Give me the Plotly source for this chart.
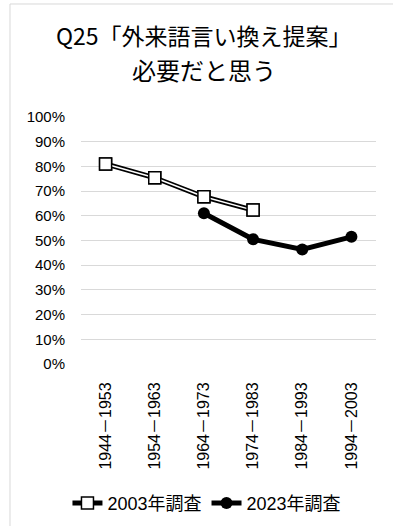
import plotly.graph_objects as go

categories = ["1944－1953", "1954－1963", "1964－1973", "1974－1983", "1984－1993", "1994－2003"]
survey_2003 = [81.0, 75.4, 67.7, 62.3, None, None]
survey_2023 = [None, None, 61.0, 50.5, 46.4, 51.5]
y_ticks = list(range(0, 101, 10))
y_ticklabels = [f"{v}%" for v in y_ticks]

font = "Liberation Sans, Noto Sans CJK JP"

fig = go.Figure()
# 2003: double line (black outline, white core) with white squares
fig.add_trace(go.Scatter(x=categories, y=survey_2003, mode="lines+markers",
                         name="2003年調査",
                         line=dict(color="black", width=5),
                         marker=dict(symbol="square", size=12, color="white",
                                     line=dict(color="black", width=1.5))))
fig.add_trace(go.Scatter(x=categories, y=survey_2003, mode="lines",
                         line=dict(color="white", width=1.5),
                         showlegend=False, hoverinfo="skip"))
fig.add_trace(go.Scatter(x=categories, y=survey_2003, mode="markers",
                         marker=dict(symbol="square", size=12, color="white",
                                     line=dict(color="black", width=1.5)),
                         showlegend=False, hoverinfo="skip"))
# 2023: thick black line with circles
fig.add_trace(go.Scatter(x=categories, y=survey_2023, mode="lines+markers",
                         name="2023年調査",
                         line=dict(color="black", width=5),
                         marker=dict(symbol="circle", size=12, color="black")))

# outer chart frame (light gray)
frame = dict(color="#d9d9d9", width=1)
fig.add_shape(type="line", xref="paper", yref="paper",
              x0=-0.2407, x1=-0.2407, y0=-0.7, y1=1.4575, line=frame)
fig.add_shape(type="line", xref="paper", yref="paper",
              x0=-0.2407, x1=1.1, y0=1.4575, y1=1.4575, line=frame)

fig.add_annotation(text="Q25「外来語言い換え提案」",
                   xref="paper", yref="paper", x=0.417, y=1.333,
                   xanchor="center", yanchor="middle", showarrow=False,
                   height=28, valign="middle",
                   font=dict(family="Noto Sans CJK JP", size=23, color="black"))
fig.add_annotation(text="必要だと思う",
                   xref="paper", yref="paper", x=0.417, y=1.196,
                   xanchor="center", yanchor="middle", showarrow=False,
                   height=28, valign="middle",
                   font=dict(family="Noto Sans CJK JP", size=24, color="black"))

fig.update_xaxes(type="category", range=[-0.5, 5.5], tickangle=-90,
                 showgrid=False, showline=False, zeroline=False,
                 ticks="outside", ticklen=11, tickcolor="rgba(0,0,0,0)",
                 tickfont=dict(family=font, size=16, color="black"))
fig.update_yaxes(range=[0, 100], tickvals=y_ticks, ticktext=y_ticklabels,
                 showgrid=True, gridcolor="#d9d9d9", gridwidth=1,
                 zeroline=False, showline=False,
                 ticks="outside", ticklen=12, tickcolor="rgba(0,0,0,0)",
                 tickfont=dict(family=font, size=15, color="black"))

fig.update_layout(width=393, height=526,
                  margin=dict(l=81, r=17, t=117, b=162, autoexpand=False),
                  paper_bgcolor="white", plot_bgcolor="white",
                  showlegend=True,
                  legend=dict(orientation="h", x=0.427, y=-0.564,
                              xanchor="center", yanchor="middle",
                              font=dict(family=font, size=18, color="black"),
                              itemwidth=30, tracegroupgap=0,
                              bgcolor="rgba(0,0,0,0)"),
                  font=dict(family=font))

# the page body has a default 8px margin; remove it so the figure sits at 0,0
fig.write_html("out.html", config={"displayModeBar": False},
               post_script="document.body.style.margin='0';")
